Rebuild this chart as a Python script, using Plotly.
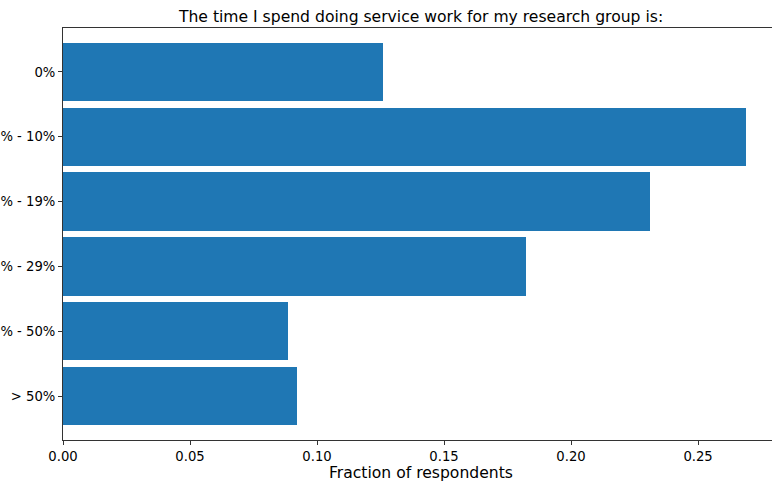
import plotly.graph_objects as go

categories = ["0%", "1% - 10%", "11% - 19%", "20% - 29%", "30% - 50%", "> 50%"]
fractions = [0.126, 0.2689, 0.2311, 0.1823, 0.0886, 0.0921]
x_ticks = [0.0, 0.05, 0.10, 0.15, 0.20, 0.25]
x_tick_labels = ["0.00", "0.05", "0.10", "0.15", "0.20", "0.25"]

positions = list(range(len(categories)))

fig = go.Figure(go.Bar(
    x=fractions, y=positions, orientation="h",
    width=0.9, marker=dict(color="#1f77b4", line=dict(width=0)),
))

font = "DejaVu Sans"
fig.update_layout(
    width=772, height=482,
    margin=dict(l=63, r=0, t=28, b=42),
    plot_bgcolor="white", paper_bgcolor="white",
    showlegend=False,
    font=dict(family=font, color="black", size=13),
    title=dict(text="The time I spend doing service work for my research group is:",
               x=0.505, xref="paper", xanchor="center", y=1 - 17 / 482, yanchor="middle",
               font=dict(size=15.6, family=font, color="black")),
    bargap=0,
    annotations=[dict(text="Fraction of respondents", xref="paper", yref="paper",
                      x=0.5056, y=-33 / 412, xanchor="center", yanchor="middle",
                      showarrow=False, font=dict(size=15.6, family=font, color="black"))],
)
fig.update_xaxes(
    range=[0, 0.2791], tickvals=x_ticks, ticktext=x_tick_labels,
    showline=True, linecolor="#333", linewidth=1, mirror=True,
    ticks="outside", ticklen=4, tickcolor="#333", showgrid=False, zeroline=False,
    tickfont=dict(size=13.2, family=font),
    automargin=False,
)
fig.update_yaxes(
    range=[5.677, -0.677], tickvals=positions, ticktext=categories,
    showline=True, linecolor="#333", linewidth=1,
    ticks="outside", ticklen=4, tickcolor="#333", showgrid=False, zeroline=False,
    tickfont=dict(size=13.2, family=font),
    automargin=False,
)
fig.write_html("out.html", config={"displayModeBar": False},
               post_script="document.body.style.margin='0';document.body.style.overflow='hidden';")
